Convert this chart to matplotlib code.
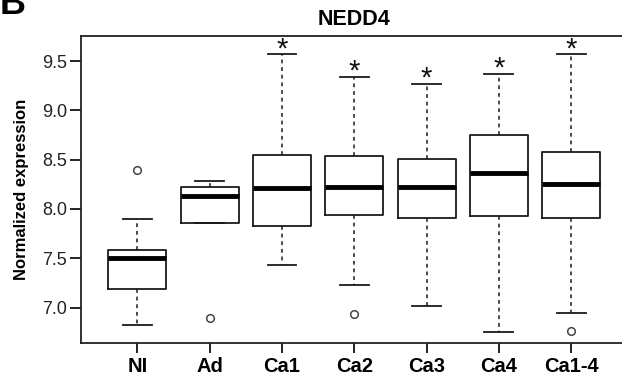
import numpy as np
import matplotlib; matplotlib.use("Agg"); import matplotlib.pyplot as plt
plt.rcParams.update({"font.family":["Liberation Sans","DejaVu Sans"]})

groups=["NI","Ad","Ca1","Ca2","Ca3","Ca4","Ca1-4"]
whislo=[6.82,7.86,7.43,7.23,7.02,6.75,6.94]
q1=[7.19,7.86,7.83,7.94,7.91,7.93,7.91]
med=[7.50,8.13,8.21,8.22,8.22,8.36,8.25]
q3=[7.58,8.22,8.55,8.54,8.51,8.75,8.58]
whishi=[7.90,8.28,9.57,9.34,9.27,9.37,9.57]
fliers=[[8.40],[6.89],[],[6.93],[],[],[6.76]]
signif=[False,False,True,True,True,True,True]

stats=[dict(label=g,whislo=a,q1=b,med=c,q3=d,whishi=e,fliers=f)
       for g,a,b,c,d,e,f in zip(groups,whislo,q1,med,q3,whishi,fliers)]

fig=plt.figure(figsize=(6.22,3.78),dpi=100)
ax=fig.add_axes([81/622,1-343/378,(627.6-81)/622,(343-36)/378])
pos=np.arange(1,len(groups)+1)
ax.bxp(stats,positions=pos,widths=0.8,capwidths=0.4,
       boxprops=dict(color="#1a1a1a",lw=1.3),
       medianprops=dict(color="black",lw=3.5,solid_capstyle="butt"),
       whiskerprops=dict(color="#1a1a1a",lw=1.1,ls=(0,(2.5,2.5))),
       capprops=dict(color="#1a1a1a",lw=1.3),
       flierprops=dict(marker="o",mfc="none",mec="#444444",ms=5.5,mew=1.1))
# significance marks above the upper whiskers
for p,s,hi in zip(pos,signif,whishi):
    if s: ax.text(p,hi-0.03,"*",ha="center",va="baseline",fontsize=21,color="#111111")
ax.set_xlim(0.22,7.78); ax.set_ylim(6.64,9.755)
ax.set_yticks([7.0,7.5,8.0,8.5,9.0,9.5])
ax.set_yticklabels(["7.0","7.5","8.0","8.5","9.0","9.5"],fontsize=13,color="#222222")
ax.set_xticks(pos); ax.set_xticklabels(groups,fontsize=14.5,fontweight="bold")
ax.tick_params(axis="y",length=8,width=1.2,pad=2)
ax.tick_params(axis="x",length=7,width=1.2,pad=3)
for sp in ax.spines.values(): sp.set_linewidth(1.3); sp.set_color("#222222")
ax.set_ylabel("Normalized expression",fontsize=12,fontweight="bold",labelpad=9)
ax.set_title("NEDD4",fontsize=15.5,fontweight="bold",pad=8)
fig.text(0.0,1.035,"B",fontsize=26,fontweight="bold",ha="left",va="top")
fig.savefig("out.png",dpi=100)
